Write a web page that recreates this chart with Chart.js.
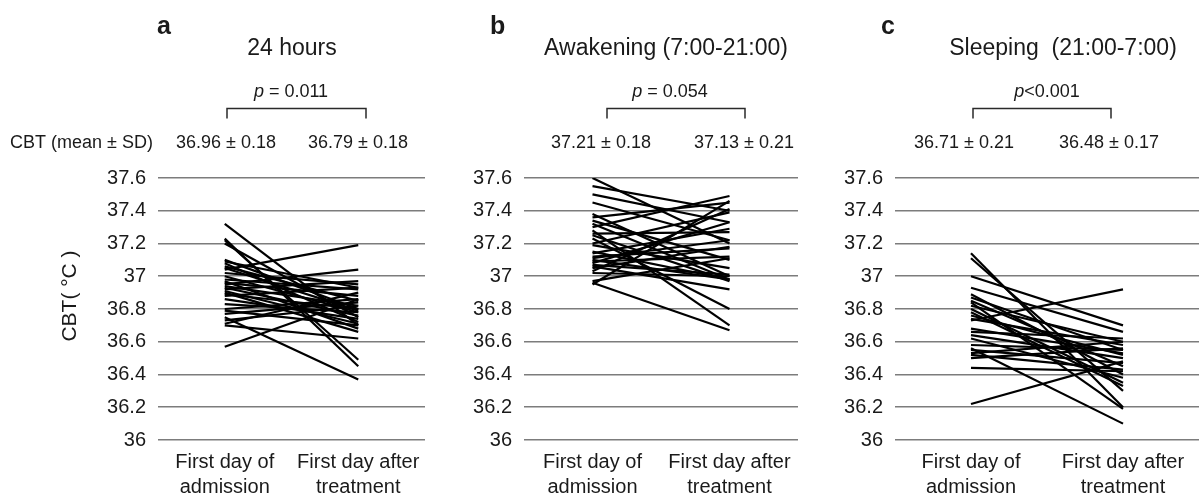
<!DOCTYPE html>
<html><head><meta charset="utf-8">
<script src="https://cdn.jsdelivr.net/npm/chart.js@4.4.1/dist/chart.umd.min.js"></script>
<style>
html,body{margin:0;padding:0;background:#fff;width:1201px;height:500px;overflow:hidden}
canvas{position:absolute;top:0}
</style></head><body>
<canvas id="ca" width="440" height="500" style="left:0px"></canvas>
<canvas id="cb" width="380" height="500" style="left:440px"></canvas>
<canvas id="cc" width="381" height="500" style="left:820px"></canvas>
<script>
// ---------- data ----------
const categories = [['First day of', 'admission'], ['First day after', 'treatment']];
const yTicks = [36, 36.2, 36.4, 36.6, 36.8, 37, 37.2, 37.4, 37.6];

// a: 24 hours
const aAdmission = [37.32,37.23,37.22,37.20,37.10,37.09,37.08,37.06,37.04,37.02,37.00,36.98,36.97,36.96,36.95,36.94,36.93,36.92,36.90,36.89,36.88,36.86,36.83,36.80,36.79,36.77,36.75,36.73,36.71,36.70,36.57,37.05,36.91];
const aAfter     = [36.70,36.45,36.49,36.75,36.80,36.93,36.72,36.85,37.19,36.95,36.78,36.92,36.68,36.88,37.04,36.82,36.76,36.97,36.66,36.80,36.93,36.74,36.78,36.86,36.70,36.84,36.37,36.82,36.90,36.62,36.86,36.79,36.71];
// b: Awakening
const bAdmission = [37.60,37.55,37.50,37.45,37.38,37.36,37.34,37.30,37.28,37.26,37.25,37.23,37.20,37.19,37.14,37.12,37.11,37.10,37.09,37.08,37.07,37.06,37.05,37.03,36.97,36.96,36.95,37.15,37.02,37.32];
const bAfter     = [37.20,37.40,37.33,37.22,37.00,37.45,37.10,37.49,36.70,37.27,36.97,36.80,37.39,37.05,37.29,37.17,37.22,36.98,37.12,37.33,37.01,36.92,37.18,37.41,37.11,36.67,37.46,36.98,37.00,36.98];
// c: Sleeping
const cAdmission = [37.14,37.11,37.00,36.93,36.89,36.87,36.85,36.82,36.80,36.76,36.74,36.73,36.66,36.64,36.62,36.58,36.56,36.55,36.53,36.52,36.50,36.44,36.22,36.78,36.68,36.84];
const cAfter     = [36.20,36.30,36.70,36.66,36.40,36.55,36.45,36.60,36.35,36.52,36.58,36.92,36.62,36.50,36.38,36.55,36.10,36.47,36.60,36.43,36.56,36.42,36.48,36.33,36.53,36.19];

const panelLetters = ['a', 'b', 'c'];
const panelTitles = ['24 hours', 'Awakening (7:00-21:00)', 'Sleeping  (21:00-7:00)'];
const pTexts = [' = 0.011', ' = 0.054', '<0.001'];
const meanTexts = [['36.96 \u00b1 0.18', '36.79 \u00b1 0.18'], ['37.21 \u00b1 0.18', '37.13 \u00b1 0.21'], ['36.71 \u00b1 0.21', '36.48 \u00b1 0.17']];
const meanRowLabel = 'CBT (mean \u00b1 SD)';
const yTitle = 'CBT( \u00b0C )';

// ---------- drawing ----------
const FONT = '"Liberation Sans", Arial, Helvetica, sans-serif';
const TXT = '#1a1a1a';

function annPlugin(i, L) {
  return {
    id: 'ann' + i,
    afterDraw(chart) {
      const ctx = chart.ctx;
      ctx.save();
      ctx.fillStyle = TXT;
      ctx.textBaseline = 'alphabetic';
      ctx.font = 'bold 25px ' + FONT;
      ctx.textAlign = 'left';
      ctx.fillText(panelLetters[i], L.letter, 34);
      ctx.font = '23px ' + FONT;
      ctx.textAlign = 'center';
      ctx.fillText(panelTitles[i], L.title, 55);
      ctx.font = 'italic 18px ' + FONT;
      const wp = ctx.measureText('p').width;
      ctx.font = '18px ' + FONT;
      const wr = ctx.measureText(pTexts[i]).width;
      const x0 = L.p - (wp + wr) / 2;
      ctx.textAlign = 'left';
      ctx.font = 'italic 18px ' + FONT;
      ctx.fillText('p', x0, 97);
      ctx.font = '18px ' + FONT;
      ctx.fillText(pTexts[i], x0 + wp, 97);
      ctx.strokeStyle = '#2a2a2a';
      ctx.lineWidth = 1.5;
      ctx.beginPath();
      ctx.moveTo(L.br[0], 118.5); ctx.lineTo(L.br[0], 108.5);
      ctx.lineTo(L.br[1], 108.5); ctx.lineTo(L.br[1], 118.5);
      ctx.stroke();
      ctx.textAlign = 'center';
      ctx.fillText(meanTexts[i][0], L.m[0], 148);
      ctx.fillText(meanTexts[i][1], L.m[1], 148);
      if (i === 0) {
        ctx.textAlign = 'left';
        ctx.fillText(meanRowLabel, 10, 148);
        ctx.save();
        ctx.translate(70, 296);
        ctx.rotate(-Math.PI / 2);
        ctx.textAlign = 'center';
        ctx.textBaseline = 'middle';
        ctx.font = '21px ' + FONT;
        ctx.fillText(yTitle, 0, 0);
        ctx.restore();
      }
      ctx.restore();
    }
  };
}

function makeChart(id, i, adm, aft, yw, padRight, L) {
  const datasets = adm.map((v, k) => ({
    data: [v, aft[k]],
    borderColor: '#000',
    borderWidth: 2.2,
    pointRadius: 0,
    fill: false,
    tension: 0
  }));
  return new Chart(document.getElementById(id), {
    type: 'line',
    data: { labels: categories, datasets },
    options: {
      responsive: false,
      animation: false,
      layout: { padding: { left: 0, right: padRight, top: 178, bottom: 0 } },
      plugins: { legend: { display: false }, tooltip: { enabled: false }, title: { display: false } },
      scales: {
        x: {
          offset: true,
          grid: { display: false, drawTicks: false },
          border: { display: false },
          ticks: { color: TXT, font: { family: FONT, size: 20, lineHeight: 1.25 }, padding: 10, maxRotation: 0, autoSkip: false },
          afterFit(s) { s.height = 60; }
        },
        y: {
          min: 36, max: 37.6,
          grid: { color: '#7c7c7c', lineWidth: 1.6, drawTicks: false },
          border: { display: false },
          afterBuildTicks(s) { s.ticks = yTicks.map(v => ({ value: v })); },
          ticks: { color: TXT, font: { family: FONT, size: 20 }, padding: 12, callback: v => String(Number(v.toFixed(1))) },
          afterFit(s) { s.width = yw; }
        }
      }
    },
    plugins: [annPlugin(i, L)]
  });
}

makeChart('ca', 0, aAdmission, aAfter, 158, 15,
  { letter: 157, title: 292, p: 291, br: [227, 366], m: [226, 358] });
makeChart('cb', 1, bAdmission, bAfter, 84, 22,
  { letter: 490 - 440, title: 666 - 440, p: 670 - 440, br: [607 - 440, 745 - 440], m: [601 - 440, 744 - 440] });
makeChart('cc', 2, cAdmission, cAfter, 75, 2,
  { letter: 881 - 820, title: 1063 - 820, p: 1047 - 820, br: [973 - 820, 1111 - 820], m: [964 - 820, 1109 - 820] });
</script>
</body></html>
